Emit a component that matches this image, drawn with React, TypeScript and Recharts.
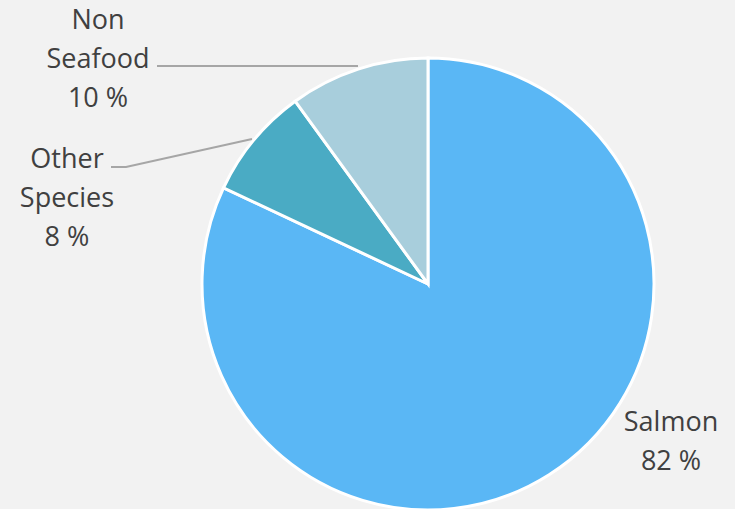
import React from 'react';
import { PieChart, Pie, Cell } from 'recharts';

const categories = ['Salmon', 'Other Species', 'Non Seafood'];
const shares = [82, 8, 10];
const colors = ['#5ab7f5', '#4aabc4', '#a8cedc'];

const data = categories.map((name, i) => ({ name, value: shares[i] }));

// label placement relative to the pie centre (Excel best-fit layout)
const labelLayout: Record<string, { lines: string[]; x: number; y: number; leader?: number[][] }> = {
  Salmon: { lines: ['Salmon'], x: 243, y: 147 },
  'Other Species': {
    lines: ['Other', 'Species'],
    x: -361,
    y: -116,
    leader: [[-317, -117], [-302, -117], [-176, -145]],
  },
  'Non Seafood': {
    lines: ['Non', 'Seafood'],
    x: -330,
    y: -255,
    leader: [[-271, -218], [-70, -218]],
  },
};

const LINE_H = 39;

const renderLabel = (props: any) => {
  const { cx, cy, name, value } = props;
  const cfg = labelLayout[name];
  if (!cfg) return null;
  const lines = [...cfg.lines, `${value} %`];
  return (
    <g>
      {cfg.leader && (
        <polyline
          points={cfg.leader.map(([x, y]) => `${cx + x},${cy + y}`).join(' ')}
          fill="none"
          stroke="#a6a6a6"
          strokeWidth={2}
        />
      )}
      <text
        x={cx + cfg.x}
        y={cy + cfg.y}
        textAnchor="middle"
        fill="#404040"
        fontSize={27}
        fontFamily="'Open Sans', sans-serif"
      >
        {lines.map((l, i) => (
          <tspan key={i} x={cx + cfg.x} dy={i === 0 ? 0 : LINE_H}>
            {l}
          </tspan>
        ))}
      </text>
    </g>
  );
};

export default function App() {
  return (
    <div style={{ position: 'absolute', left: 0, top: 0, width: 735, height: 509, background: '#f2f2f2' }}>
      <PieChart width={735} height={509} margin={{ top: 0, right: 0, bottom: 0, left: 0 }}>
        <Pie
          data={data}
          dataKey="value"
          nameKey="name"
          cx={428}
          cy={284}
          outerRadius={226}
          startAngle={90}
          endAngle={-270}
          stroke="#ffffff"
          strokeWidth={3}
          label={renderLabel}
          labelLine={false}
          isAnimationActive={false}
        >
          {data.map((d, i) => (
            <Cell key={d.name} fill={colors[i]} />
          ))}
        </Pie>
      </PieChart>
    </div>
  );
}
